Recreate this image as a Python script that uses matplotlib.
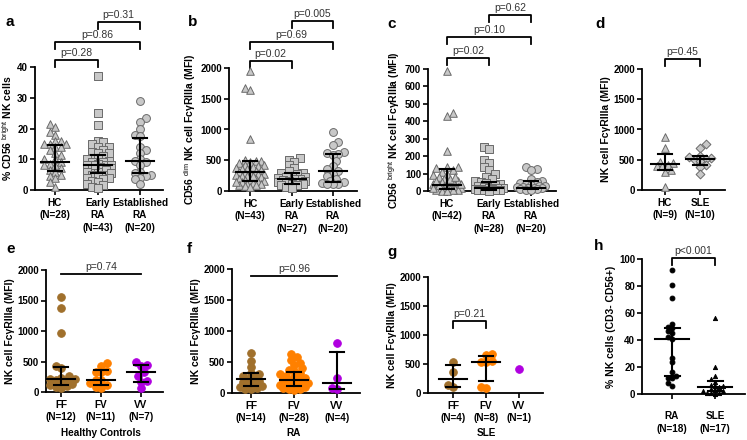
import numpy as np
import matplotlib
matplotlib.use('Agg')
import matplotlib.pyplot as plt

plt.rcParams['font.family'] = ['Liberation Sans', 'DejaVu Sans']
plt.rcParams['mathtext.fontset'] = 'custom'
plt.rcParams['mathtext.rm'] = 'Liberation Sans'
plt.rcParams['mathtext.it'] = 'Liberation Sans:italic'
plt.rcParams['mathtext.bf'] = 'Liberation Sans:bold'

# ---------------- data ----------------
# panel a: % CD56bright NK cells
a_hc = [21.5, 20.5, 19, 18, 16, 16, 15, 15, 15, 14, 14, 13, 12, 11.5, 10, 10, 9, 8.5, 8, 8, 7, 6.5, 6, 5, 4.5, 4, 2.5, 1]
a_early = [37, 25, 21, 16, 15.5, 15, 14, 14, 13, 12.5, 12, 12, 11, 10.5, 10, 10, 9.5, 9, 9, 8.5, 8, 8, 8, 7.5,
           7, 7, 6.5, 6, 6, 5.5, 5, 5, 4.5, 4, 4, 3.5, 3, 2.5, 2, 1.5, 1, 0.5, 8]
a_est = [29, 23.5, 22, 20, 18, 17.5, 14, 13, 12, 10, 9.5, 9, 8, 6, 5.5, 5, 4.5, 4, 3.5, 2]
a_med = [9.2, 8.0, 9.3]
a_q1 = [6.3, 5.5, 5.6]
a_q3 = [14.7, 11.5, 16.8]

# panel b: CD56dim NK cell FcgRIIIa (MFI)
b_hc = [1950, 1680, 1640, 840, 500, 490, 480, 470, 450, 430, 420, 400, 390, 380, 360, 350, 340, 320, 310, 300,
        290, 280, 270, 260, 250, 240, 220, 200, 190, 180, 170, 160, 150, 140, 130, 120, 110, 100, 90, 80, 70, 150, 250]
b_early = [540, 510, 470, 420, 380, 330, 300, 290, 270, 250, 230, 220, 210, 200, 190, 180, 170, 160, 150, 140,
           130, 120, 110, 100, 90, 70, 50]
b_est = [960, 800, 750, 640, 620, 600, 590, 480, 400, 350, 330, 280, 250, 200, 170, 140, 130, 120, 110, 110]
b_med = [310, 200, 330]
b_q1 = [170, 110, 140]
b_q3 = [480, 290, 600]

# panel c: CD56bright NK cell FcgRIIIa (MFI)
c_hc = [690, 450, 430, 230, 140, 135, 130, 120, 110, 100, 90, 80, 70, 60, 50, 45, 40, 35, 30, 30, 25, 25, 20, 20,
        15, 15, 10, 10, 10, 5, 5, 5, 3, 2, 1, 40, 35, 50, 60, 70, 80, 15]
c_early = [250, 240, 180, 160, 140, 120, 100, 80, 70, 60, 50, 45, 40, 35, 30, 25, 20, 18, 15, 12, 10, 10, 8, 6, 5, 4, 3, 2]
c_est = [135, 125, 120, 70, 60, 50, 45, 40, 35, 30, 28, 25, 22, 20, 18, 15, 12, 10, 8, 5]
c_med = [35, 15, 20]
c_q1 = [10, 8, 10]
c_q3 = [125, 50, 55]

# panel d: NK cell FcgRIIIa (MFI), HC vs SLE
d_hc = [880, 700, 460, 450, 420, 400, 390, 330, 300, 50]
d_sle = [760, 690, 560, 550, 530, 520, 500, 480, 420, 380, 270]
d_med = [430, 520]
d_q1 = [330, 410]
d_q3 = [600, 560]

# panels e-g: NK cell FcgRIIIa by genotype (FF, FV, VV)
e_ff = [1550, 1380, 960, 420, 400, 260, 230, 220, 210, 200, 190, 150, 130, 120, 100, 90, 60]
e_fv = [470, 420, 340, 330, 320, 200, 190, 150, 110, 90, 60]
e_vv = [500, 440, 430, 320, 260, 180, 170, 60]
e_med = [220, 200, 320]
e_q1 = [120, 110, 170]
e_q3 = [410, 360, 450]

f_ff = [650, 520, 420, 330, 300, 280, 250, 220, 200, 180, 150, 130, 110, 90, 80, 60, 70]
f_fv = [630, 580, 530, 480, 450, 400, 370, 350, 320, 300, 280, 260, 240, 220, 210, 200, 180, 160, 150, 130,
        120, 110, 100, 90, 80, 70, 60, 50]
f_vv = [800, 250, 80, 70]
f_med = [220, 210, 160]
f_q1 = [120, 120, 70]
f_q3 = [330, 340, 660]

g_ff = [530, 370, 130, 100]
g_fv = [670, 660, 560, 540, 530, 110, 80]
g_vv = [410]
g_med = [250, 530, None]
g_q1 = [100, 200, None]
g_q3 = [490, 640, None]

# panel h: % NK cells
h_ra = [92, 81, 71, 52, 50, 49, 47, 45, 42, 41, 27, 24, 16, 13, 12, 12, 8, 6]
h_sle = [56, 20, 13, 11, 9, 7, 6, 6, 5, 4, 3, 2, 2, 1, 1, 0.5, 0]
h_med = [41, 5.5]
h_q1 = [13, 2]
h_q3 = [49, 10]

cats_abc_a = ["HC\n(N=28)", "Early\nRA\n(N=43)", "Established\nRA\n(N=20)"]
cats_abc_b = ["HC\n(N=43)", "Early\nRA\n(N=27)", "Established\nRA\n(N=20)"]
cats_abc_c = ["HC\n(N=42)", "Early\nRA\n(N=28)", "Established\nRA\n(N=20)"]
cats_d = ["HC\n(N=9)", "SLE\n(N=10)"]
cats_e = ["FF\n(N=12)", "FV\n(N=11)", "VV\n(N=7)"]
cats_f = ["FF\n(N=14)", "FV\n(N=28)", "VV\n(N=4)"]
cats_g = ["FF\n(N=4)", "FV\n(N=8)", "VV\n(N=1)"]
cats_h = ["RA\n(N=18)", "SLE\n(N=17)"]

# ---------------- styling ----------------
W, H = 747, 440
fig = plt.figure(figsize=(W / 100, H / 100), dpi=100)

GREY_F = '#c8c8c8'
GREY_E = '#6a6a6a'
C_FF = '#a0702c'
C_FV = '#ff8000'
C_VV = '#b000e0'
PCOL = '#333333'
FS_TICK = 7
FS_CAT = 7.2
FS_LAB = 7.5
FS_P = 7.5


def swarm(vals, py, d, maxw):
    ys = np.asarray(vals, float) * py
    order = np.argsort(ys)
    px_, py_ = [], []
    offs = np.zeros(len(ys))
    for n, i in enumerate(order):
        sgn = 1 if n % 2 == 0 else -1
        steps = [0.0]
        k = 1
        while k * d * 0.5 <= maxw:
            steps += [sgn * k * d * 0.5, -sgn * k * d * 0.5]
            k += 1
        best, bestd = 0.0, -1
        chosen = None
        for s in steps:
            if px_:
                md = min(np.hypot(s - np.array(px_), ys[i] - np.array(py_)))
            else:
                md = 1e9
            if md >= d:
                chosen = s
                break
            if md > bestd:
                bestd, best = md, s
        if chosen is None:
            chosen = best
        offs[i] = chosen
        px_.append(chosen)
        py_.append(ys[i])
    return offs


def make_panel(rect, cpos, ymax, yticks, ylabel, cats, groups, markers, fcs, ecs, sizes,
               meds, q1s, q3s, dsw=5.5, maxw=16, labpad=2, mw=14, cw=7):
    left, top, right, bottom = rect
    ax = fig.add_axes([left / W, 1 - bottom / H, (right - left) / W, (bottom - top) / H])
    n = len(cpos)
    sp = (cpos[-1] - cpos[0]) / (n - 1)
    ax.set_xlim(-(cpos[0] - left) / sp, (n - 1) + (right - cpos[-1]) / sp)
    ax.set_ylim(0, ymax)
    py = (bottom - top) / ymax
    for k, (vals, m, fc, ec, s) in enumerate(zip(groups, markers, fcs, ecs, sizes)):
        offs = swarm(vals, py, dsw, maxw) / sp
        ax.scatter(k + offs, vals, marker=m, s=s, facecolor=fc, edgecolor=ec, linewidths=0.7,
                   zorder=3, clip_on=False)
    for k in range(n):
        if meds[k] is None:
            continue
        ax.plot([k - mw / sp, k + mw / sp], [meds[k]] * 2, color='black', lw=1.5, zorder=4, clip_on=False)
        ax.plot([k, k], [q1s[k], q3s[k]], color='black', lw=1.5, zorder=4, clip_on=False)
        for q in (q1s[k], q3s[k]):
            ax.plot([k - cw / sp, k + cw / sp], [q, q], color='black', lw=1.5, zorder=4, clip_on=False)
    for sname in ('top', 'right'):
        ax.spines[sname].set_visible(False)
    for sname in ('left', 'bottom'):
        ax.spines[sname].set_linewidth(1.3)
    ax.set_yticks(yticks)
    ax.set_xticks(range(n))
    ax.set_xticklabels(cats, fontsize=FS_CAT, fontweight='bold', linespacing=1.35)
    ax.tick_params(axis='y', labelsize=FS_TICK, length=3.5, width=1.2, pad=1.5)
    ax.tick_params(axis='x', length=3.5, width=1.2, pad=labpad)
    for t in ax.get_yticklabels():
        t.set_fontweight('bold')
    ax.set_ylabel(ylabel, fontsize=FS_LAB, fontweight='bold', labelpad=2)
    ax._rect = rect
    return ax


def to_frac(ax, ypx):
    left, top, right, bottom = ax._rect
    return (bottom - ypx) / (bottom - top)


def bracket(ax, i, j, ytop, text, drop=7, plain=False):
    tr = ax.get_xaxis_transform()
    yt = to_frac(ax, ytop)
    yb = to_frac(ax, ytop + drop)
    if plain:
        ax.plot([i, j], [yt, yt], color='black', lw=1.3, transform=tr, clip_on=False)
    else:
        ax.plot([i, i, j, j], [yb, yt, yt, yb], color='black', lw=1.3, transform=tr, clip_on=False)
    ax.text((i + j) / 2, to_frac(ax, ytop - 2), text, transform=tr, ha='center', va='bottom',
            fontsize=FS_P, color=PCOL)


grey3 = dict(markers=['^', 's', 'o'], fcs=[GREY_F] * 3, ecs=[GREY_E] * 3, sizes=[30, 26, 32])
geno = dict(markers=['o', 'o', 'o'], fcs=[C_FF, C_FV, C_VV], ecs=[C_FF, C_FV, C_VV], sizes=[30, 30, 30])

lab_bright = 'CD56 $^{\\mathrm{bright}}$ NK cell FcγRIIIa (MFI)'
lab_nk = 'NK cell FcγRIIIa (MFI)'

ax_a = make_panel((35, 67, 163, 190), [55, 97, 140], 40, [0, 10, 20, 30, 40],
                  '% CD56 $^{\\mathrm{bright}}$ NK cells', cats_abc_a, [a_hc, a_early, a_est],
                  meds=a_med, q1s=a_q1, q3s=a_q3, **grey3)
bracket(ax_a, 0, 1, 60, 'p=0.28')
bracket(ax_a, 0, 2, 42, 'p=0.86')
bracket(ax_a, 1, 2, 22, 'p=0.31')

ax_b = make_panel((229, 68, 357, 191), [250, 291, 333], 2000, [0, 500, 1000, 1500, 2000],
                  'CD56 $^{\\mathrm{dim}}$ NK cell FcγRIIIa (MFI)', cats_abc_b, [b_hc, b_early, b_est],
                  meds=b_med, q1s=b_q1, q3s=b_q3, **grey3)
bracket(ax_b, 0, 1, 61, 'p=0.02')
bracket(ax_b, 0, 2, 42, 'p=0.69')
bracket(ax_b, 1, 2, 21, 'p=0.005')

ax_c = make_panel((428, 69, 556, 191), [447, 489, 531], 700, [0, 100, 200, 300, 400, 500, 600, 700],
                  lab_bright, cats_abc_c, [c_hc, c_early, c_est],
                  meds=c_med, q1s=c_q1, q3s=c_q3, **grey3)
bracket(ax_c, 0, 1, 58, 'p=0.02')
bracket(ax_c, 0, 2, 37, 'p=0.10')
bracket(ax_c, 1, 2, 15, 'p=0.62')

ax_d = make_panel((642, 69, 725, 190), [665, 700], 2000, [0, 500, 1000, 1500, 2000],
                  lab_nk, cats_d, [d_hc, d_sle], markers=['^', 'D'], fcs=[GREY_F] * 2,
                  ecs=[GREY_E] * 2, sizes=[30, 20], meds=d_med, q1s=d_q1, q3s=d_q3, maxw=12)
bracket(ax_d, 0, 1, 59, 'p=0.45')

ax_e = make_panel((46, 270, 163, 392), [61, 101, 141], 2000, [0, 500, 1000, 1500, 2000],
                  lab_nk, cats_e, [e_ff, e_fv, e_vv], meds=e_med, q1s=e_q1, q3s=e_q3,
                  maxw=14, **geno)
bracket(ax_e, 0, 2, 274, 'p=0.74', plain=True)

ax_f = make_panel((232, 269, 360, 393), [251, 294, 337], 2000, [0, 500, 1000, 1500, 2000],
                  lab_nk, cats_f, [f_ff, f_fv, f_vv], meds=f_med, q1s=f_q1, q3s=f_q3,
                  maxw=15, **geno)
bracket(ax_f, 0, 2, 276, 'p=0.96', plain=True)

ax_g = make_panel((428, 277, 543, 393), [453, 486, 519], 2000, [0, 500, 1000, 1500, 2000],
                  lab_nk, cats_g, [g_ff, g_fv, g_vv], meds=g_med, q1s=g_q1, q3s=g_q3,
                  maxw=12, **geno)
bracket(ax_g, 0, 1, 321, 'p=0.21')

ax_h = make_panel((642, 259, 745, 394), [672, 715], 100, [0, 20, 40, 60, 80, 100],
                  '% NK cells (CD3- CD56+)', cats_h, [h_ra, h_sle], markers=['o', '^'],
                  fcs=['black'] * 2, ecs=['black'] * 2, sizes=[12, 9], meds=h_med, q1s=h_q1, q3s=h_q3,
                  dsw=4.0, maxw=15, labpad=9, mw=17, cw=7.5)
bracket(ax_h, 0, 1, 258, 'p<0.001')

# group labels
for xpx, txt in [(101, 'Healthy Controls'), (294, 'RA'), (486, 'SLE')]:
    fig.text(xpx / W, 1 - 433 / H, txt, ha='center', va='center', fontsize=FS_CAT, fontweight='bold')

# panel letters
for xpx, ypx, txt in [(5, 22, 'a'), (188, 22, 'b'), (387, 24, 'c'), (595, 24, 'd'),
                      (6, 249, 'e'), (187, 249, 'f'), (387, 252, 'g'), (594, 246, 'h')]:
    fig.text(xpx / W, 1 - ypx / H, txt, ha='left', va='center', fontsize=11, fontweight='bold')

fig.savefig('out.png', dpi=100)
